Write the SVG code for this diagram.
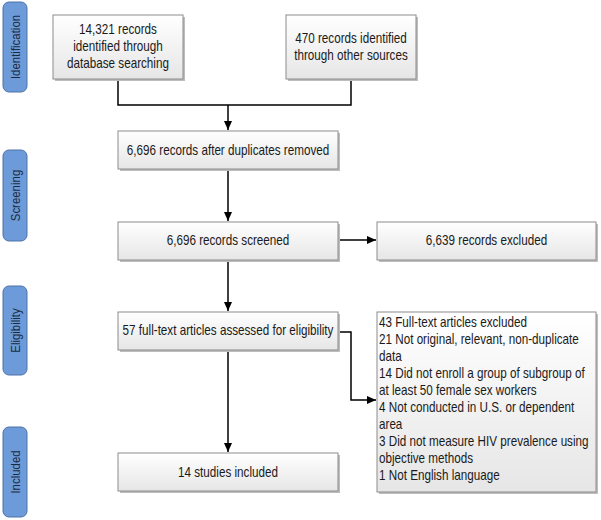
<svg xmlns="http://www.w3.org/2000/svg" width="601" height="520" viewBox="0 0 601 520">
<defs>
<linearGradient id="g" x1="0" y1="0" x2="0" y2="1">
<stop offset="0" stop-color="#ffffff"/>
<stop offset="1" stop-color="#e6e6e6"/>
</linearGradient>
<marker id="ah" markerWidth="10" markerHeight="10" refX="9" refY="5" orient="auto" markerUnits="userSpaceOnUse">
<path d="M0,1 L9,5 L0,9 Z" fill="#000"/>
</marker>
</defs>
<style>
.box{fill:url(#g);stroke:#8c8c8c;stroke-width:1}
.sh{fill:#bdbdbd}
.lbl{fill:#6d9bd9;stroke:#4f73a6;stroke-width:1}
.t{font-family:"Liberation Sans",Arial,sans-serif;font-size:14px;fill:#1a1a1a}
.c{text-anchor:middle}
.side{font-family:"Liberation Sans",Arial,sans-serif;font-size:13px;fill:#1a2a40;text-anchor:middle}
.ln{fill:none;stroke:#000;stroke-width:1.5}
</style>
<g id="phase-identification">
<rect class="lbl" x="3" y="2" width="24" height="90" rx="6"/>
<text class="side" transform="translate(19.5,47) rotate(-90) scale(0.88,1)">Identification</text>
</g>
<g id="phase-screening">
<rect class="lbl" x="3" y="150" width="24" height="91" rx="6"/>
<text class="side" transform="translate(19.5,195.5) rotate(-90) scale(0.88,1)">Screening</text>
</g>
<g id="phase-eligibility">
<rect class="lbl" x="3" y="286" width="24" height="89" rx="6"/>
<text class="side" transform="translate(19.5,330.5) rotate(-90) scale(0.88,1)">Eligibility</text>
</g>
<g id="phase-included">
<rect class="lbl" x="3" y="427" width="24" height="90" rx="6"/>
<text class="side" transform="translate(19.5,472) rotate(-90) scale(0.88,1)">Included</text>
</g>
<g id="connectors">
<path class="ln" d="M118,79 V105 H351 V79"/>
<path class="ln" d="M228,105 V130" marker-end="url(#ah)"/>
<path class="ln" d="M228,169 V221" marker-end="url(#ah)"/>
<path class="ln" d="M338,240 H376" marker-end="url(#ah)"/>
<path class="ln" d="M228,260 V311" marker-end="url(#ah)"/>
<path class="ln" d="M338,332 H351 V400 H376" marker-end="url(#ah)"/>
<path class="ln" d="M228,350 V452" marker-end="url(#ah)"/>
</g>
<g id="n1">
<rect class="sh" x="55" y="17" width="130" height="64"/>
<rect class="box" x="53" y="15" width="130" height="64"/>
<text class="t c" transform="translate(118,34) scale(0.835,1)">14,321 records</text>
<text class="t c" transform="translate(118,51) scale(0.835,1)">identified through</text>
<text class="t c" transform="translate(118,68) scale(0.835,1)">database searching</text>
</g>
<g id="n2">
<rect class="sh" x="288" y="17" width="130" height="64"/>
<rect class="box" x="286" y="15" width="130" height="64"/>
<text class="t c" transform="translate(351,43) scale(0.835,1)">470 records identified</text>
<text class="t c" transform="translate(351,60) scale(0.835,1)">through other sources</text>
</g>
<g id="n3">
<rect class="sh" x="120" y="133" width="220" height="38"/>
<rect class="box" x="118" y="131" width="220" height="38"/>
<text class="t c" transform="translate(228,155) scale(0.835,1)">6,696 records after duplicates removed</text>
</g>
<g id="n4">
<rect class="sh" x="120" y="224" width="220" height="38"/>
<rect class="box" x="118" y="222" width="220" height="38"/>
<text class="t c" transform="translate(228,245) scale(0.835,1)">6,696 records screened</text>
</g>
<g id="n5">
<rect class="sh" x="379" y="224" width="219" height="38"/>
<rect class="box" x="377" y="222" width="219" height="38"/>
<text class="t c" transform="translate(486.5,245) scale(0.835,1)">6,639 records excluded</text>
</g>
<g id="n6">
<rect class="sh" x="120" y="314" width="220" height="38"/>
<rect class="box" x="118" y="312" width="220" height="38"/>
<text class="t c" transform="translate(228,335) scale(0.835,1)">57 full-text articles assessed for eligibility</text>
</g>
<g id="n7">
<rect class="sh" x="379" y="314" width="219" height="180"/>
<rect class="box" x="377" y="312" width="219" height="180"/>
<text class="t" transform="translate(379,327) scale(0.835,1)">43 Full-text articles excluded</text>
<text class="t" transform="translate(379,344) scale(0.835,1)">21 Not original, relevant, non-duplicate</text>
<text class="t" transform="translate(379,361) scale(0.835,1)">data</text>
<text class="t" transform="translate(379,378) scale(0.835,1)">14 Did not enroll a group of subgroup of</text>
<text class="t" transform="translate(379,395) scale(0.835,1)">at least 50 female sex workers</text>
<text class="t" transform="translate(379,412) scale(0.835,1)">4 Not conducted in U.S. or dependent</text>
<text class="t" transform="translate(379,429) scale(0.835,1)">area</text>
<text class="t" transform="translate(379,446) scale(0.835,1)">3 Did not measure HIV prevalence using</text>
<text class="t" transform="translate(379,463) scale(0.835,1)">objective methods</text>
<text class="t" transform="translate(379,480) scale(0.835,1)">1 Not English language</text>
</g>
<g id="n8">
<rect class="sh" x="120" y="455" width="220" height="38"/>
<rect class="box" x="118" y="453" width="220" height="38"/>
<text class="t c" transform="translate(228,477) scale(0.835,1)">14 studies included</text>
</g>
</svg>
